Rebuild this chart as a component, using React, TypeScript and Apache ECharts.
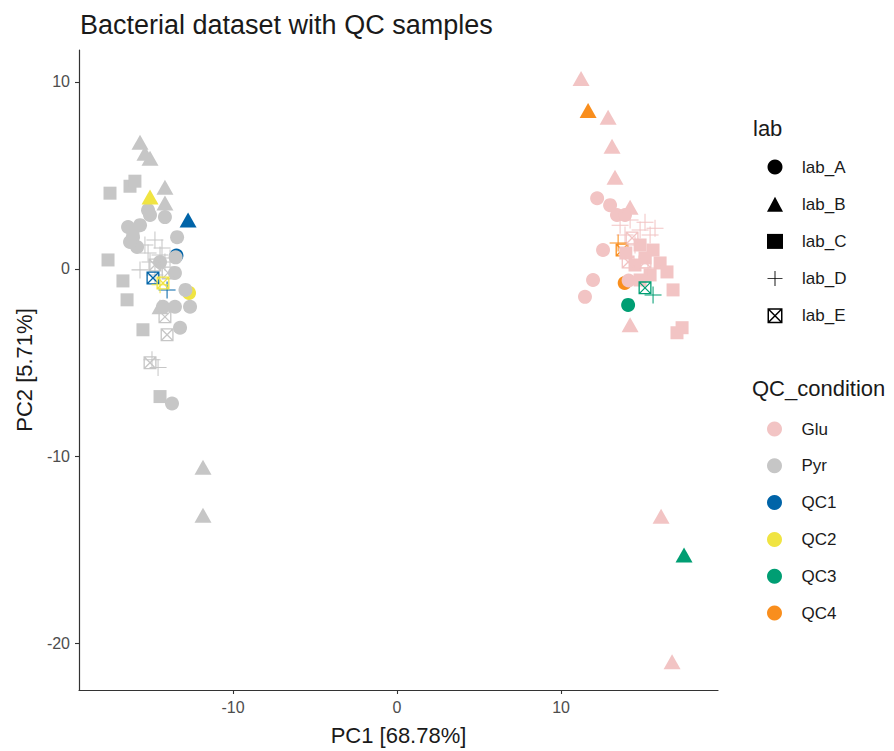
import React, { useEffect, useRef } from "react";
import * as echarts from "echarts";

const chartTitle = "Bacterial dataset with QC samples";
const xName = "PC1 [68.78%]";
const yName = "PC2 [5.71%]";
const labTitle = "lab";
const condTitle = "QC_condition";
const labs = ["lab_A", "lab_B", "lab_C", "lab_D", "lab_E"];
const conditions = ["Glu", "Pyr", "QC1", "QC2", "QC3", "QC4"];
const xTicks = [-10, 0, 10];
const yTicks = [-20, -10, 0, 10];

// Pyr samples
const pyrA = [[-16.4, 2.24], [-16.1, 1.7], [-15.85, 1.17], [-16.28, 1.44], [-15.67, 2.34], [-15.06, 2.88], [-15.18, 3.14], [-14.15, 2.77], [-13.41, 1.7], [-13.5, 0.62], [-13.54, -0.21], [-12.9, -1.12], [-14.27, -2.02], [-13.54, -2.02], [-12.62, -2.02], [-13.23, -3.14], [-13.72, -7.19], [-14.45, 0.37]];
const pyrB = [[-15.67, 6.77], [-15.37, 6.18], [-15.06, 5.91], [-14.15, 4.37], [-14.15, 3.52], [-14.45, -2.02], [-11.83, -10.6], [-11.83, -13.16]];
const pyrC = [[-17.5, 4.05], [-16.28, 4.42], [-15.98, 4.69], [-17.62, 0.48], [-16.71, -0.64], [-16.46, -1.65], [-15.49, -3.25], [-14.45, -6.82], [-16.1, 1.97]];
const pyrD = [[-15.37, 1.28], [-14.76, 1.55], [-14.33, 1.12], [-15.18, 0.85], [-14.45, 0.75], [-15.06, 0.37], [-14.15, 0.37], [-15.67, -0.05], [-14.76, -0.32], [-14.94, -4.85], [-14.57, -5.27], [-13.84, 0.59]];
const pyrE = [[-13.96, -0.21], [-14.76, 0.21], [-14.15, -2.56], [-14.02, -3.52], [-15.06, -5.01]];

// Glu samples
const gluA = [[12.2, 3.78], [12.99, 3.41], [13.41, 2.88], [13.9, 2.88], [12.56, 1.01], [11.95, -0.59], [11.46, -1.49], [14.12, -0.62]];
const gluB = [[11.22, 10.18], [12.87, 8.1], [13.11, 6.55], [13.29, 4.9], [14.21, 3.3], [14.21, -2.98], [16.1, -13.21], [16.77, -20.99]];
const gluC = [[15.61, 1.01], [16.04, 0.32], [16.46, -0.16], [16.83, -1.12], [17.38, -3.14], [17.07, -3.41], [14.82, 1.28], [15.12, 0.59], [14.51, 0.21], [15.43, -0.32], [13.95, 0.85], [14.82, -0.59]];
const gluD = [[13.6, 2.34], [14.21, 2.61], [14.82, 2.08], [15.43, 1.81], [13.9, 1.81], [15.12, 2.5], [14.51, 1.28], [15.73, 2.18], [14.82, 0.37], [15.3, 0.05]];
const gluE = [[14.33, 1.65], [15.12, 0.37], [14.09, 0.37]];

// QC samples
const qc1A = [[-13.45, 0.72]];
const qc1B = [[-12.74, 2.61]];
const qc1D = [[-14.02, -1.12]];
const qc1E = [[-14.88, -0.48]];
const qc2A = [[-12.68, -1.28]];
const qc2B = [[-15.06, 3.84]];
const qc2D = [[-14.45, -0.85]];
const qc2E = [[-14.27, -0.75]];
const qc3A = [[14.09, -1.92]];
const qc3B = [[17.5, -15.29]];
const qc3D = [[15.61, -1.39]];
const qc3E = [[15.12, -1.01]];
const qc4A = [[13.88, -0.75]];
const qc4B = [[11.65, 8.47]];
const qc4D = [[13.48, 1.39]];
const qc4E = [[13.72, 1.01]];

const COLORS: Record<string, string> = {
  Glu: "#F2C4C4",
  Pyr: "#C6C6C6",
  QC1: "#0064A8",
  QC2: "#F0E442",
  QC3: "#009E73",
  QC4: "#F98E1D",
};

const CROSS = "path://M47,0H53V100H47Z M0,47H100V53H0Z";
const BOXX =
  "path://M0,0H100V100H0Z M10,10V90H90V10Z M10,10L17,10L90,83L90,90L83,90L10,17Z M90,10L90,17L17,90L10,90L10,83L83,10Z";

const SYMBOLS: Record<string, string> = {
  lab_A: "circle",
  lab_B: "triangle",
  lab_C: "rect",
  lab_D: CROSS,
  lab_E: BOXX,
};
const SIZES: Record<string, any> = {
  lab_A: 14,
  lab_B: [17, 15],
  lab_C: 13,
  lab_D: 17,
  lab_E: 13,
};

const FONT = "Liberation Sans";

function dataSeries(cond: string, lab: string, data: number[][]) {
  return {
    type: "scatter",
    name: cond + " " + lab,
    data,
    symbol: SYMBOLS[lab],
    symbolSize: SIZES[lab],
    itemStyle: { color: COLORS[cond], opacity: 1 },
    silent: true,
  };
}

export default function App() {
  const ref = useRef<HTMLDivElement>(null);
  useEffect(() => {
    if (!ref.current) return;
    const chart = echarts.init(ref.current, undefined, { renderer: "svg" });

    const drawOrder: [string, string, number[][]][] = [
      ["QC1", "lab_A", qc1A],
      ["QC2", "lab_A", qc2A],
      ["QC4", "lab_A", qc4A],
      ["QC4", "lab_E", qc4E],
      ["Pyr", "lab_A", pyrA],
      ["Pyr", "lab_B", pyrB],
      ["Pyr", "lab_C", pyrC],
      ["Pyr", "lab_D", pyrD],
      ["Pyr", "lab_E", pyrE],
      ["Glu", "lab_A", gluA],
      ["Glu", "lab_B", gluB],
      ["Glu", "lab_C", gluC],
      ["Glu", "lab_D", gluD],
      ["Glu", "lab_E", gluE],
      ["QC1", "lab_B", qc1B],
      ["QC1", "lab_E", qc1E],
      ["QC1", "lab_D", qc1D],
      ["QC2", "lab_B", qc2B],
      ["QC2", "lab_E", qc2E],
      ["QC2", "lab_D", qc2D],
      ["QC3", "lab_A", qc3A],
      ["QC3", "lab_B", qc3B],
      ["QC3", "lab_E", qc3E],
      ["QC3", "lab_D", qc3D],
      ["QC4", "lab_B", qc4B],
      ["QC4", "lab_D", qc4D],
    ];

    const series: any[] = drawOrder.map(([c, l, d]) => dataSeries(c, l, d));
    labs.forEach((l) =>
      series.push({
        type: "scatter",
        name: l,
        data: [],
        symbol: SYMBOLS[l],
        symbolSize: SIZES[l],
        itemStyle: { color: "#000000", opacity: 1 },
      })
    );
    conditions.forEach((c) =>
      series.push({
        type: "scatter",
        name: c,
        data: [],
        symbol: "circle",
        symbolSize: 14,
        itemStyle: { color: COLORS[c], opacity: 1 },
      })
    );

    const legendText = {
      fontFamily: FONT,
      fontSize: 17,
      color: "#1A1A1A",
      lineHeight: 18,
      padding: [0, 0, 0, 14],
    };

    chart.setOption({
      animation: false,
      textStyle: { fontFamily: FONT },
      title: {
        text: chartTitle,
        left: 75,
        top: 6,
        textStyle: { fontFamily: FONT, fontSize: 27, fontWeight: "normal", color: "#1A1A1A" },
      },
      grid: { left: 79, right: 176, top: 50, bottom: 59, containLabel: false },
      xAxis: {
        type: "value",
        min: -19.39,
        max: 19.57,
        name: xName,
        nameLocation: "middle",
        nameGap: 34,
        nameTextStyle: { fontFamily: FONT, fontSize: 22, color: "#1A1A1A" },
        splitLine: { show: false },
        axisLine: { onZero: false, lineStyle: { color: "#333333", width: 1.2 } },
        axisTick: { customValues: xTicks, length: 4, lineStyle: { color: "#333333", width: 1.1 } },
        axisLabel: { customValues: xTicks, color: "#4D4D4D", fontSize: 16, margin: 9, fontFamily: FONT },
      },
      yAxis: {
        type: "value",
        min: -22.5,
        max: 11.7,
        name: yName,
        nameLocation: "middle",
        nameGap: 40,
        nameTextStyle: { fontFamily: FONT, fontSize: 22, color: "#1A1A1A" },
        splitLine: { show: false },
        axisLine: { onZero: false, lineStyle: { color: "#333333", width: 1.2 } },
        axisTick: { customValues: yTicks, length: 4, lineStyle: { color: "#333333", width: 1.1 } },
        axisLabel: { customValues: yTicks, color: "#4D4D4D", fontSize: 16, margin: 9, fontFamily: FONT },
      },
      legend: [
        {
          data: labs,
          orient: "vertical",
          left: 762,
          top: 153,
          itemWidth: 16,
          itemHeight: 15,
          itemGap: 19.2,
          selectedMode: false,
          textStyle: legendText,
        },
        {
          data: conditions,
          orient: "vertical",
          left: 762,
          top: 415,
          itemWidth: 16,
          itemHeight: 15,
          itemGap: 18.8,
          selectedMode: false,
          textStyle: legendText,
        },
      ],
      graphic: [
        {
          type: "text",
          left: 753,
          top: 117,
          style: { text: labTitle, fontFamily: FONT, fontSize: 22, fill: "#1A1A1A" },
        },
        {
          type: "text",
          left: 752,
          top: 377,
          style: { text: condTitle, fontFamily: FONT, fontSize: 22, fill: "#1A1A1A" },
        },
      ],
      series,
    });
    return () => chart.dispose();
  }, []);

  return (
    <div
      ref={ref}
      style={{ position: "fixed", left: 0, top: 0, width: 894, height: 751, background: "#ffffff" }}
    />
  );
}
